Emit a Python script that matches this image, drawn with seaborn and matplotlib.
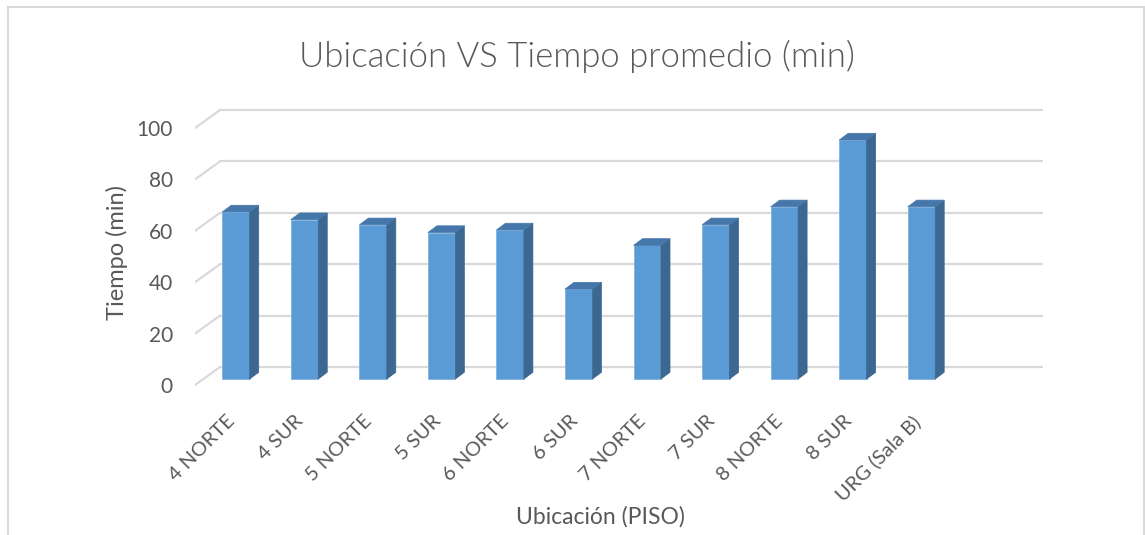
import matplotlib
matplotlib.use("Agg")
import matplotlib.pyplot as plt
from matplotlib.patches import Polygon, Rectangle
from matplotlib.transforms import ScaledTranslation
import pandas as pd
import seaborn as sns

# datos
ubicaciones = ["4 NORTE", "4 SUR", "5 NORTE", "5 SUR", "6 NORTE", "6 SUR",
               "7 NORTE", "7 SUR", "8 NORTE", "8 SUR", "URG (Sala B)"]
tiempos = [65, 62, 60, 57, 58, 35, 52, 60, 67, 93, 67]
y_ticks = [0, 20, 40, 60, 80, 100]

W, H = 1145, 535
GRIS = "#595959"
GRID = "#D9D9D9"
FRENTE = "#5B9BD5"
LADO = "#3C6791"
TAPA = "#4677AA"

sns.set_theme(style="white")
plt.rcParams['font.family'] = ['Lato', 'DejaVu Sans']

df = pd.DataFrame({"ubicacion": ubicaciones, "tiempo": tiempos})

fig = plt.figure(figsize=(W / 100, H / 100), dpi=100)
ax = fig.add_axes([195 / W, 1 - 395 / H, (1043 - 195) / W, (395 - 100) / H])

# profundidad del efecto 3D (en unidades de datos)
px_x = 68.55   # pixeles por categoria
px_y = 2.57    # pixeles por minuto
base = 6 / px_y          # las barras estan algo detras del borde frontal
ddx, ddy = 9 / px_x, 6.7 / px_y      # cara lateral / tapa
bdx, bdy = 25 / px_x, 18 / px_y      # pared del fondo

xl, xr = -41 / px_x, (1043 - 236) / px_x

# rejilla en la pared del fondo
for v in y_ticks:
    ax.plot([xl, xl + bdx], [v, v + bdy], color=GRID, lw=1.6, zorder=1)
    ax.plot([xl + bdx, xr], [v + bdy, v + bdy], color=GRID, lw=1.6, zorder=1)

sns.barplot(data=df, x="ubicacion", y="tiempo", color=FRENTE, width=0.4,
            saturation=1, bottom=base, ax=ax, zorder=3,
            edgecolor="#7FB2E0", linewidth=0.6)

for p in list(ax.patches):
    x0 = p.get_x()
    x1 = x0 + p.get_width()
    y0 = p.get_y()
    y1 = y0 + p.get_height()
    lado = Polygon([(x1, y0), (x1 + ddx, y0 + ddy), (x1 + ddx, y1 + ddy), (x1, y1)],
                   closed=True, facecolor=LADO, edgecolor=LADO, lw=0.5, zorder=3)
    tapa = Polygon([(x0, y1), (x1, y1), (x1 + ddx, y1 + ddy), (x0 + ddx, y1 + ddy)],
                   closed=True, facecolor=TAPA, edgecolor=TAPA, lw=0.5, zorder=3)
    ax.add_patch(lado)
    ax.add_patch(tapa)

ax.set_xlim(xl, xr)
ax.set_ylim(-10 / px_y, 285 / px_y)
ax.set_yticks(y_ticks)
ax.set_yticklabels([str(v) for v in y_ticks])
ax.set_xticks(range(len(ubicaciones)))
ax.set_xticklabels(ubicaciones)
ax.tick_params(axis="y", length=0, pad=16, labelsize=15, labelcolor=GRIS)
ax.tick_params(axis="x", length=0, pad=17, labelsize=14.5, labelcolor=GRIS)
desplazar = ScaledTranslation(-4 / 100, 0, fig.dpi_scale_trans)
for lab in ax.get_xticklabels():
    lab.set_rotation(45)
    lab.set_rotation_mode("anchor")
    lab.set_ha("right")
    lab.set_va("center")
    lab.set_transform(lab.get_transform() + desplazar)
ax.set_xlabel("")
ax.set_ylabel("")
for s in ax.spines.values():
    s.set_visible(False)
ax.patch.set_alpha(0)

fig.text(577 / W, 1 - 56 / H, "Ubicación VS Tiempo promedio (min)",
         ha="center", va="center", fontsize=25, color=GRIS, fontweight=300)
fig.text(117 / W, 1 - 252 / H, "Tiempo (min)", rotation=90,
         ha="center", va="center", fontsize=17, color=GRIS)
fig.text(600 / W, 1 - 517 / H, "Ubicación (PISO)",
         ha="center", va="center", fontsize=16.5, color=GRIS)

fig.add_artist(Rectangle((8 / W, -0.1), (1144 - 8) / W, 1.1 - 7 / H,
                         transform=fig.transFigure, fill=False,
                         edgecolor=GRID, lw=1.5))

fig.savefig("out.png", dpi=100)
